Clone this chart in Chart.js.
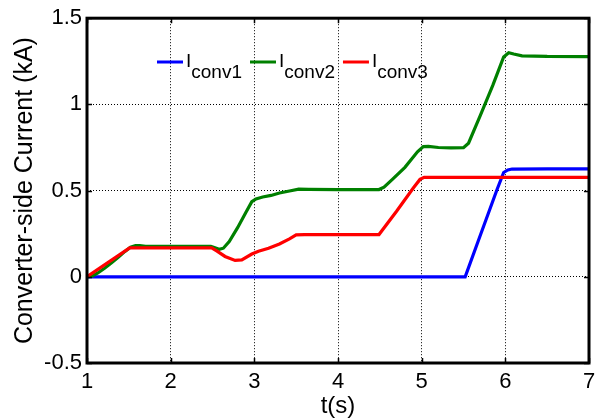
<!DOCTYPE html>
<html>
<head>
<meta charset="utf-8">
<script src="https://cdn.jsdelivr.net/npm/chart.js@4/dist/chart.umd.min.js"></script>
<style>
  html, body { margin: 0; padding: 0; background: #fff; }
  #c { display: block; }
</style>
</head>
<body>
<canvas id="c" width="609" height="418"></canvas>
<script>
// ---- data ----
const xTicks = [1, 2, 3, 4, 5, 6, 7];
const yTicks = [-0.5, 0, 0.5, 1, 1.5];
const seriesNames = ['conv1', 'conv2', 'conv3'];
const seriesColors = ['#0000ff', '#008000', '#ff0000'];

const iconv1 = [
  [1, 0], [5.52, 0], [5.7, 0.24], [5.9, 0.505], [5.98, 0.605], [6.03, 0.62],
  [6.08, 0.625], [6.5, 0.626], [7, 0.626]
];
const iconv2 = [
  [1, 0], [1.06, 0.004], [1.13, 0.022], [1.21, 0.05], [1.29, 0.08], [1.37, 0.112],
  [1.45, 0.146], [1.52, 0.172], [1.58, 0.181], [1.63, 0.181], [1.7, 0.177],
  [2.0, 0.176], [2.48, 0.176], [2.53, 0.168], [2.58, 0.16], [2.63, 0.166],
  [2.7, 0.205], [2.8, 0.285], [2.9, 0.375], [2.97, 0.436], [3.02, 0.452],
  [3.1, 0.463], [3.2, 0.472], [3.3, 0.486], [3.42, 0.498], [3.53, 0.508],
  [3.65, 0.507], [4.0, 0.506], [4.49, 0.506], [4.55, 0.52], [4.65, 0.565],
  [4.8, 0.635], [4.95, 0.725], [5.02, 0.755], [5.08, 0.757], [5.2, 0.75],
  [5.35, 0.748], [5.5, 0.749], [5.56, 0.775], [5.7, 0.935], [5.85, 1.11],
  [5.98, 1.275], [6.04, 1.3], [6.1, 1.292], [6.2, 1.282], [6.5, 1.278], [7, 1.277]
];
const iconv3 = [
  [1, 0], [1.51, 0.168], [2.0, 0.168], [2.49, 0.168], [2.55, 0.15],
  [2.65, 0.118], [2.77, 0.095], [2.85, 0.098], [2.97, 0.132], [3.05, 0.148],
  [3.17, 0.165], [3.3, 0.19], [3.42, 0.22], [3.5, 0.243], [3.6, 0.245],
  [4.0, 0.245], [4.49, 0.245], [4.7, 0.38], [4.9, 0.515], [4.98, 0.565],
  [5.03, 0.577], [5.5, 0.577], [6.0, 0.577], [7, 0.577]
];
const allSeries = [iconv1, iconv2, iconv3];

const FONT = '"Liberation Sans", Arial, Helvetica, sans-serif';

// frame + inward ticks (MATLAB style box)
const framePlugin = {
  id: 'frame',
  afterDraw(chart) {
    const {ctx, chartArea: a, scales} = chart;
    ctx.save();
    ctx.strokeStyle = '#000';
    ctx.lineWidth = 1.5;
    const tl = 5;
    ctx.beginPath();
    xTicks.forEach(v => {
      const x = Math.round(scales.x.getPixelForValue(v)) + 0.5;
      ctx.moveTo(x, a.bottom); ctx.lineTo(x, a.bottom - tl);
      ctx.moveTo(x, a.top); ctx.lineTo(x, a.top + tl);
    });
    yTicks.forEach(v => {
      const y = Math.round(scales.y.getPixelForValue(v)) + 0.5;
      ctx.moveTo(a.left, y); ctx.lineTo(a.left + tl, y);
      ctx.moveTo(a.right, y); ctx.lineTo(a.right - tl, y);
    });
    ctx.stroke();
    ctx.lineWidth = 3;
    ctx.strokeRect(a.left, a.top, a.right - a.left, a.bottom - a.top);
    ctx.restore();
  }
};

// legend with subscripts
const legendPlugin = {
  id: 'subLegend',
  afterDraw(chart) {
    const {ctx} = chart;
    ctx.save();
    ctx.font = '19px ' + FONT;
    ctx.textBaseline = 'alphabetic';
    ctx.textAlign = 'left';
    let x = 157;
    const lineY = 62;
    chart.data.datasets.forEach((ds, i) => {
      ctx.strokeStyle = ds.borderColor;
      ctx.lineWidth = 3;
      ctx.beginPath();
      ctx.moveTo(x, lineY); ctx.lineTo(x + 26, lineY);
      ctx.stroke();
      ctx.fillStyle = '#000';
      const ix = x + 29;
      ctx.fillText('I', ix, 67);
      const sx = ix + ctx.measureText('I').width;
      ctx.fillText(seriesNames[i], sx, 78);
      x = sx + ctx.measureText(seriesNames[i]).width + 8;
    });
    ctx.restore();
  }
};

const toPts = arr => arr.map(p => ({x: p[0], y: p[1]}));

new Chart(document.getElementById('c'), {
  type: 'line',
  data: {
    datasets: allSeries.map((s, i) => ({
      label: 'I' + seriesNames[i],
      data: toPts(s),
      borderColor: seriesColors[i],
      backgroundColor: seriesColors[i],
      borderWidth: 3.2,
      pointRadius: 0,
      tension: 0,
      fill: false,
      order: 2 - i
    }))
  },
  options: {
    responsive: false,
    animation: false,
    events: [],
    layout: { padding: { left: 0, right: 20, top: 18, bottom: 0 } },
    plugins: { legend: { display: false }, tooltip: { enabled: false } },
    scales: {
      x: {
        type: 'linear',
        min: 1, max: 7,
        afterBuildTicks: s => { s.ticks = xTicks.map(v => ({value: v})); },
        afterFit: s => { s.height = 55; },
        grid: { color: '#000', lineWidth: 1, drawTicks: false },
        border: { display: false, dash: [1, 2] },
        ticks: { color: '#000', font: { family: FONT, size: 22 }, padding: 6, maxRotation: 0 },
        title: { display: true, text: 't(s)', color: '#000',
                 font: { family: FONT, size: 24, lineHeight: 1.0 }, padding: { top: 0, bottom: 0 } }
      },
      y: {
        type: 'linear',
        min: -0.5, max: 1.5,
        afterBuildTicks: s => { s.ticks = yTicks.map(v => ({value: v})); },
        afterFit: s => { s.width = 87; },
        grid: { color: '#000', lineWidth: 1, drawTicks: false },
        border: { display: false, dash: [1, 2] },
        ticks: { color: '#000', font: { family: FONT, size: 22 }, padding: 5,
                 callback: v => String(v) },
        title: { display: true, text: 'Converter-side Current (kA)', color: '#000',
                 font: { family: FONT, size: 25, lineHeight: 1.2 }, padding: { top: 10, bottom: 0 } }
      }
    }
  },
  plugins: [framePlugin, legendPlugin]
});
</script>
</body>
</html>
